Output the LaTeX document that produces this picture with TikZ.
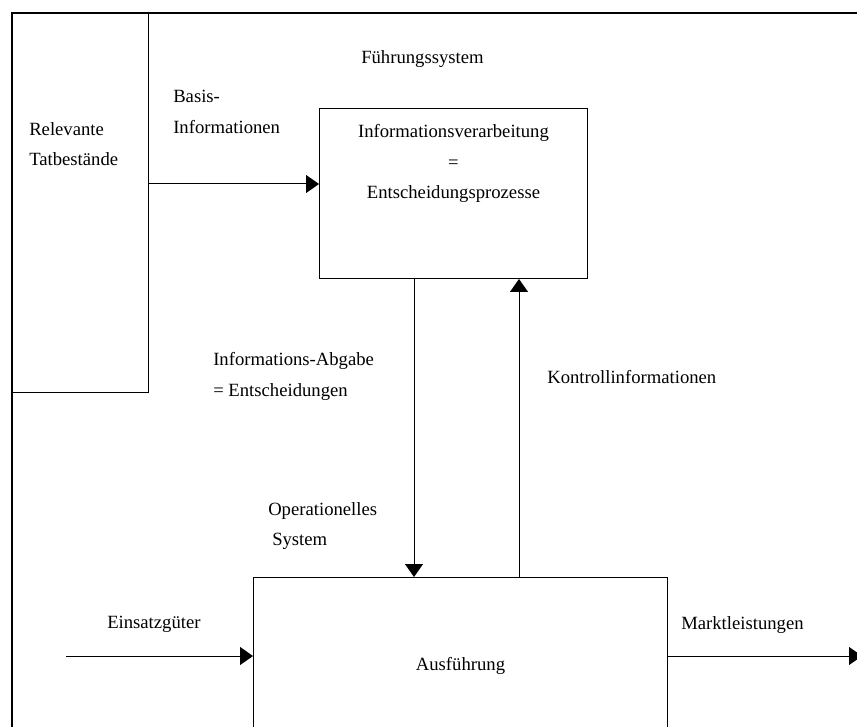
\documentclass[tikz,border=0pt]{standalone}
\usepackage{fontspec}
\setmainfont{Liberation Serif}
\usetikzlibrary{arrows.meta,positioning,calc}

\begin{document}
\begin{tikzpicture}[x=0.75pt,y=-0.75pt,
    box/.style={draw,line width=0.75pt,anchor=north west,inner sep=0pt},
    lbl/.style={inner sep=0pt,anchor=north west,align=left,font=\fontsize{14}{23}\selectfont},
    arr/.style={line width=0.75pt,-{Triangle[length=9.75pt,width=13.5pt]}}]
    \useasboundingbox (0,0) rectangle (857,727);
    \clip (0,0) rectangle (857,727);
    % boxes
    \node[box,minimum width=102pt,minimum height=284.25pt] (rel) at (12,13) {};
    \node[box,minimum width=201pt,minimum height=127.5pt] (info) at (319,108) {};
    \node[box,minimum width=310.5pt,minimum height=150pt] (ausf) at (253,577) {};
    \draw[line width=1.5pt] (12,760) -- (12,13) -- (880,13);
    % texts
    \node[lbl,below=12pt of info.north,align=center] (infotxt) {Informationsverarbeitung\\=\\Entscheidungsprozesse};
    \node[lbl,below=60pt of ausf.north,anchor=north] (ausftxt) {Ausführung};
    \node[lbl] (reltxt) at (29,122) {Relevante\\Tatbestände};
    \node[lbl] (basis) at (173,90) {Basis-\\Informationen};
    \node[lbl] (abgabe) at (213,352) {Informations-Abgabe\\= Entscheidungen};
    \node[lbl] (opsys) at (268,502) {Operationelles\\\hspace*{3pt}System};
    \foreach \n/\x/\y/\t in {fs/361/50/Führungssystem, kontr/547/370/Kontrollinformationen,
      ein/107/616/Einsatzgüter, markt/681/616/Marktleistungen}
      \node[lbl] (\n) at (\x,\y) {\t};
    % connectors
    \coordinate (bas) at (148,184);
    \coordinate (dn) at (414,300);
    \coordinate (up) at (519,300);
    \coordinate (input) at (66,656);
    \coordinate (output) at (862,656);
    \draw[arr] (bas) -- (bas -| info.west);
    \draw[arr] (dn |- info.south) -- (dn |- ausf.north);
    \draw[arr] (up |- ausf.north) -- (up |- info.south);
    \draw[arr] (input) -- (input -| ausf.west);
    \draw[arr] (ausf.east |- output) -- (output);
\end{tikzpicture}
\end{document}
